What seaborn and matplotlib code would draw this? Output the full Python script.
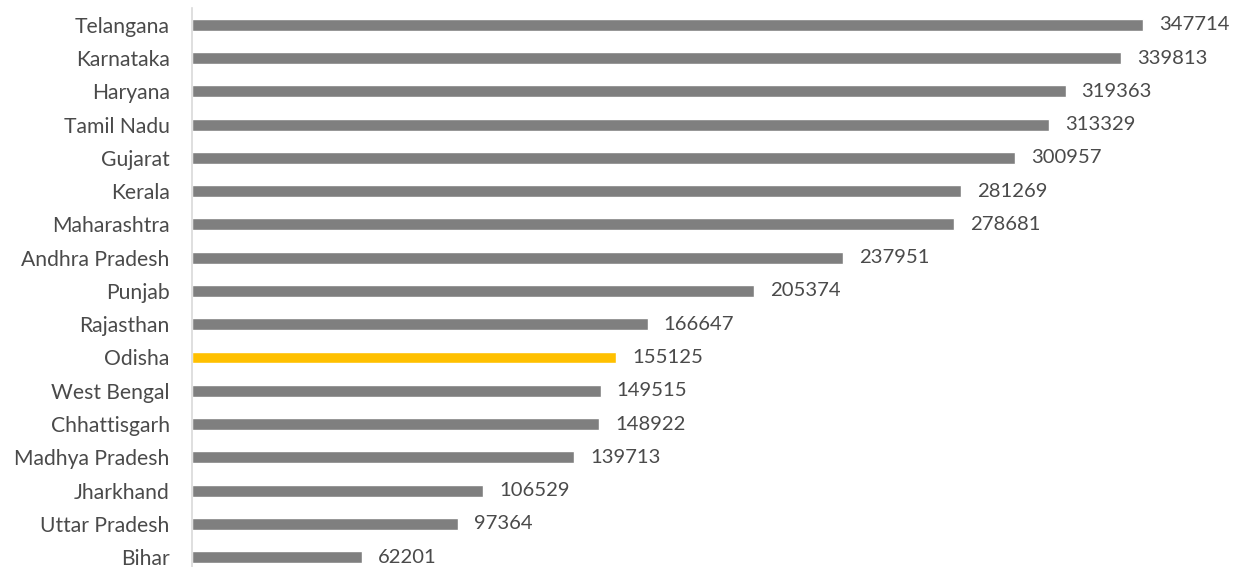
import matplotlib
matplotlib.use("Agg")
import matplotlib.pyplot as plt
import seaborn as sns
import pandas as pd

# Data
states = [
    "Telangana", "Karnataka", "Haryana", "Tamil Nadu", "Gujarat", "Kerala",
    "Maharashtra", "Andhra Pradesh", "Punjab", "Rajasthan", "Odisha",
    "West Bengal", "Chhattisgarh", "Madhya Pradesh", "Jharkhand",
    "Uttar Pradesh", "Bihar",
]
values = [
    347714, 339813, 319363, 313329, 300957, 281269, 278681, 237951,
    205374, 166647, 155125, 149515, 148922, 139713, 106529, 97364, 62201,
]
highlight = "Odisha"

df = pd.DataFrame({"State": states, "Value": values})

sns.set_theme(style="white")
plt.rcParams["font.family"] = ["Lato", "DejaVu Sans"]

fig = plt.figure(figsize=(12.42, 5.67), dpi=100)
ax = fig.add_axes([192 / 1242, 0.0, (1230 - 192) / 1242, (567 - 8) / 567])

palette = {s: ("#ffc000" if s == highlight else "#7f7f7f") for s in states}

sns.barplot(
    data=df,
    x="Value",
    y="State",
    hue="State",
    palette=palette,
    order=states,
    width=0.36,
    legend=False,
    saturation=1,
    ax=ax,
)

# value labels
for i, v in enumerate(values):
    ax.text(v + 5800, i, str(v), va="center", ha="left",
            fontsize=14.6, color="#4a4a4a")

ax.set_xlim(0, 379500)
ax.set_ylim(16.3, -0.51)
ax.set_xlabel("")
ax.set_ylabel("")
ax.set_xticks([])
ax.tick_params(axis="y", length=0, pad=16, labelsize=15.2, labelcolor="#4a4a4a")

for side in ["top", "right", "bottom"]:
    ax.spines[side].set_visible(False)
ax.spines["left"].set_color("#d9d9d9")
ax.spines["left"].set_linewidth(1.2)

fig.savefig("out.png", dpi=100)
